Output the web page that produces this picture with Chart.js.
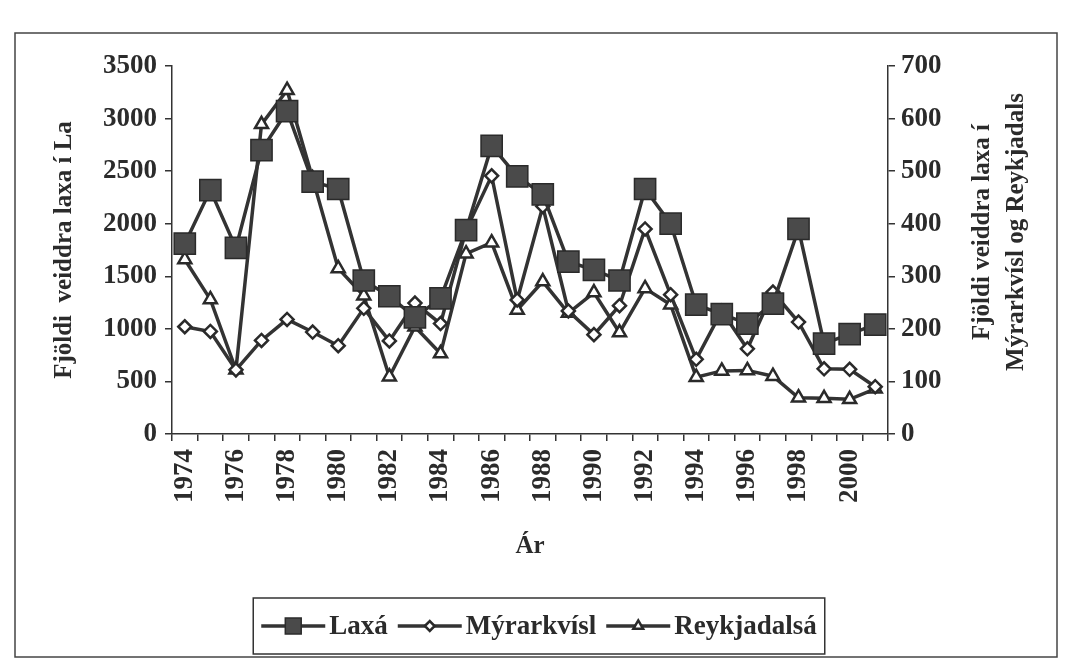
<!DOCTYPE html>
<html>
<head>
<meta charset="utf-8">
<script src="https://cdn.jsdelivr.net/npm/chart.js@4.4.0/dist/chart.umd.min.js"></script>
<style>
  html, body { margin: 0; padding: 0; background: #fff; }
  #wrap { width: 1068px; height: 664px; }
</style>
</head>
<body>
<div id="wrap"><canvas id="laxChart" width="1068" height="664"></canvas></div>
<script>
// Ár (years)
var years = ["1974","1975","1976","1977","1978","1979","1980","1981","1982","1983",
             "1984","1985","1986","1987","1988","1989","1990","1991","1992","1993",
             "1994","1995","1996","1997","1998","1999","2000","2001"];

// Laxá - left axis
var laxa = [1810, 2320, 1770, 2700, 3070, 2400, 2330, 1460, 1310, 1110,
            1290, 1940, 2740, 2450, 2280, 1640, 1560, 1460, 2330, 2000,
            1230, 1140, 1050, 1240, 1950, 860, 950, 1040];

// Mýrarkvísl - right axis
var myrarkvisl = [204, 195, 122, 178, 218, 194, 168, 239, 177, 249,
                  210, 388, 491, 255, 433, 234, 189, 244, 390, 265,
                  142, 234, 162, 270, 213, 124, 123, 90];

// Reykjadalsá - right axis
var reykjadalsa = [332, 256, 122, 589, 654, 486, 315, 263, 109, 204,
                   153, 343, 364, 236, 290, 230, 269, 193, 277, 246,
                   108, 120, 121, 110, 69, 68, 66, 86];

var leftTicks = [0, 500, 1000, 1500, 2000, 2500, 3000, 3500];
var rightTicks = [0, 100, 200, 300, 400, 500, 600, 700];

var ink = "#2b2b2b";
var serif = "'Liberation Serif', 'Times New Roman', serif";

// frame round the whole chart
var framePlugin = {
    id: "frame",
    beforeDraw: function (chart) {
        var ctx = chart.ctx;
        ctx.save();
        ctx.fillStyle = "#fff";
        ctx.fillRect(0, 0, chart.width, chart.height);
        ctx.strokeStyle = "#444";
        ctx.lineWidth = 1.5;
        ctx.strokeRect(15, 33, 1042, 624);
        ctx.restore();
    }
};

// right axis title reads bottom-to-top like the left one
var rightTitlePlugin = {
    id: "rightTitle",
    afterDraw: function (chart) {
        var ctx = chart.ctx;
        var area = chart.chartArea;
        var cy = (area.top + area.bottom) / 2 - 18;
        ctx.save();
        ctx.fillStyle = ink;
        ctx.font = "bold 25px " + serif;
        ctx.textAlign = "center";
        ctx.textBaseline = "middle";
        ctx.translate(983, cy);
        ctx.rotate(-Math.PI / 2);
        ctx.fillText("Fjöldi veiddra laxa í", 0, 0);
        ctx.fillText("Mýrarkvísl og Reykjadals", 0, 34);
        ctx.restore();
    }
};

// legend box: line sample with marker in the middle, then name
var legendPlugin = {
    id: "boxLegend",
    afterDraw: function (chart) {
        var ctx = chart.ctx;
        var sets = chart.data.datasets;
        var lineLen = 64, gapText = 4, gapItem = 10, pad = 8;
        ctx.save();
        ctx.font = "bold 27px " + serif;
        var total = pad * 2;
        sets.forEach(function (ds, i) {
            total += lineLen + gapText + ctx.measureText(ds.label).width;
            if (i < sets.length - 1) total += gapItem;
        });
        var boxH = 56, boxTop = 598;
        var x = 539 - total / 2;
        ctx.strokeStyle = "#333";
        ctx.lineWidth = 1.5;
        ctx.strokeRect(x, boxTop, total, boxH);
        var cy = boxTop + boxH / 2;
        x += pad;
        sets.forEach(function (ds) {
            ctx.strokeStyle = ds.borderColor;
            ctx.lineWidth = ds.borderWidth;
            ctx.beginPath();
            ctx.moveTo(x, cy);
            ctx.lineTo(x + lineLen, cy);
            ctx.stroke();
            ctx.fillStyle = ds.pointBackgroundColor;
            ctx.strokeStyle = ds.pointBorderColor;
            ctx.lineWidth = ds.pointBorderWidth;
            Chart.helpers.drawPoint(ctx, {
                pointStyle: ds.pointStyle,
                radius: ds.pointRadius * 0.75,
                rotation: 0,
                borderWidth: ds.pointBorderWidth
            }, x + lineLen / 2, cy);
            x += lineLen + gapText;
            ctx.fillStyle = ink;
            ctx.textAlign = "left";
            ctx.textBaseline = "middle";
            ctx.fillText(ds.label, x, cy + 1);
            x += ctx.measureText(ds.label).width + gapItem;
        });
        ctx.restore();
    }
};

function plainNumber(value) {
    return String(value);
}

var ctx = document.getElementById("laxChart");

var laxChart = new Chart(ctx, {
    type: "line",
    data: {
        labels: years,
        datasets: [{
            label: "Laxá",
            data: laxa,
            yAxisID: "y",
            borderColor: "#333",
            borderWidth: 3.5,
            pointStyle: "rect",
            pointRadius: 15,
            pointBackgroundColor: "#4a4a4a",
            pointBorderColor: "#2a2a2a",
            pointBorderWidth: 1.5,
            tension: 0
        }, {
            label: "Mýrarkvísl",
            data: myrarkvisl,
            yAxisID: "y1",
            borderColor: "#333",
            borderWidth: 3.5,
            pointStyle: "rectRot",
            pointRadius: 6.5,
            pointBackgroundColor: "#fff",
            pointBorderColor: "#2a2a2a",
            pointBorderWidth: 2.5,
            tension: 0
        }, {
            label: "Reykjadalsá",
            data: reykjadalsa,
            yAxisID: "y1",
            borderColor: "#333",
            borderWidth: 3.5,
            pointStyle: "triangle",
            pointRadius: 7.5,
            pointBackgroundColor: "#fff",
            pointBorderColor: "#2a2a2a",
            pointBorderWidth: 2.5,
            tension: 0
        }]
    },
    options: {
        responsive: false,
        animation: false,
        devicePixelRatio: 1,
        layout: {
            padding: { left: 40, right: 0, top: 66, bottom: 100 }
        },
        plugins: {
            legend: { display: false },
            tooltip: { enabled: false }
        },
        scales: {
            x: {
                type: "category",
                offset: true,
                grid: {
                    offset: true,
                    drawOnChartArea: false,
                    drawTicks: true,
                    tickLength: 7,
                    color: "#333",
                    lineWidth: 1.5
                },
                border: { display: true, color: "#333", width: 1.5 },
                ticks: {
                    autoSkip: false,
                    maxRotation: 90,
                    minRotation: 90,
                    padding: 8,
                    color: ink,
                    font: { family: serif, size: 27, weight: "bold" },
                    callback: function (value, index) {
                        return index % 2 === 0 ? years[index] : "";
                    }
                },
                title: {
                    display: true,
                    text: "Ár",
                    color: ink,
                    font: { family: serif, size: 25, weight: "bold" },
                    padding: { top: 0, bottom: 2 }
                },
                afterFit: function (scale) { scale.height = 130; }
            },
            y: {
                position: "left",
                min: 0,
                max: 3500,
                afterBuildTicks: function (scale) {
                    scale.ticks = leftTicks.map(function (v) { return { value: v }; });
                },
                grid: {
                    drawOnChartArea: false,
                    drawTicks: true,
                    tickLength: 7,
                    color: "#333",
                    lineWidth: 1.5
                },
                border: { display: true, color: "#333", width: 1.5 },
                ticks: {
                    padding: 8,
                    color: ink,
                    font: { family: serif, size: 27, weight: "bold" },
                    callback: plainNumber
                },
                title: {
                    display: true,
                    text: "Fjöldi  veiddra laxa í La",
                    color: ink,
                    font: { family: serif, size: 25, weight: "bold" },
                    padding: { top: 10, bottom: 0 }
                },
                afterFit: function (scale) { scale.width = 132; }
            },
            y1: {
                position: "right",
                min: 0,
                max: 700,
                afterBuildTicks: function (scale) {
                    scale.ticks = rightTicks.map(function (v) { return { value: v }; });
                },
                grid: {
                    drawOnChartArea: false,
                    drawTicks: true,
                    tickLength: 7,
                    color: "#333",
                    lineWidth: 1.5
                },
                border: { display: true, color: "#333", width: 1.5 },
                ticks: {
                    padding: 6,
                    color: ink,
                    font: { family: serif, size: 27, weight: "bold" },
                    callback: plainNumber
                },
                afterFit: function (scale) { scale.width = 180; }
            }
        }
    },
    plugins: [framePlugin, rightTitlePlugin, legendPlugin]
});
</script>
</body>
</html>
